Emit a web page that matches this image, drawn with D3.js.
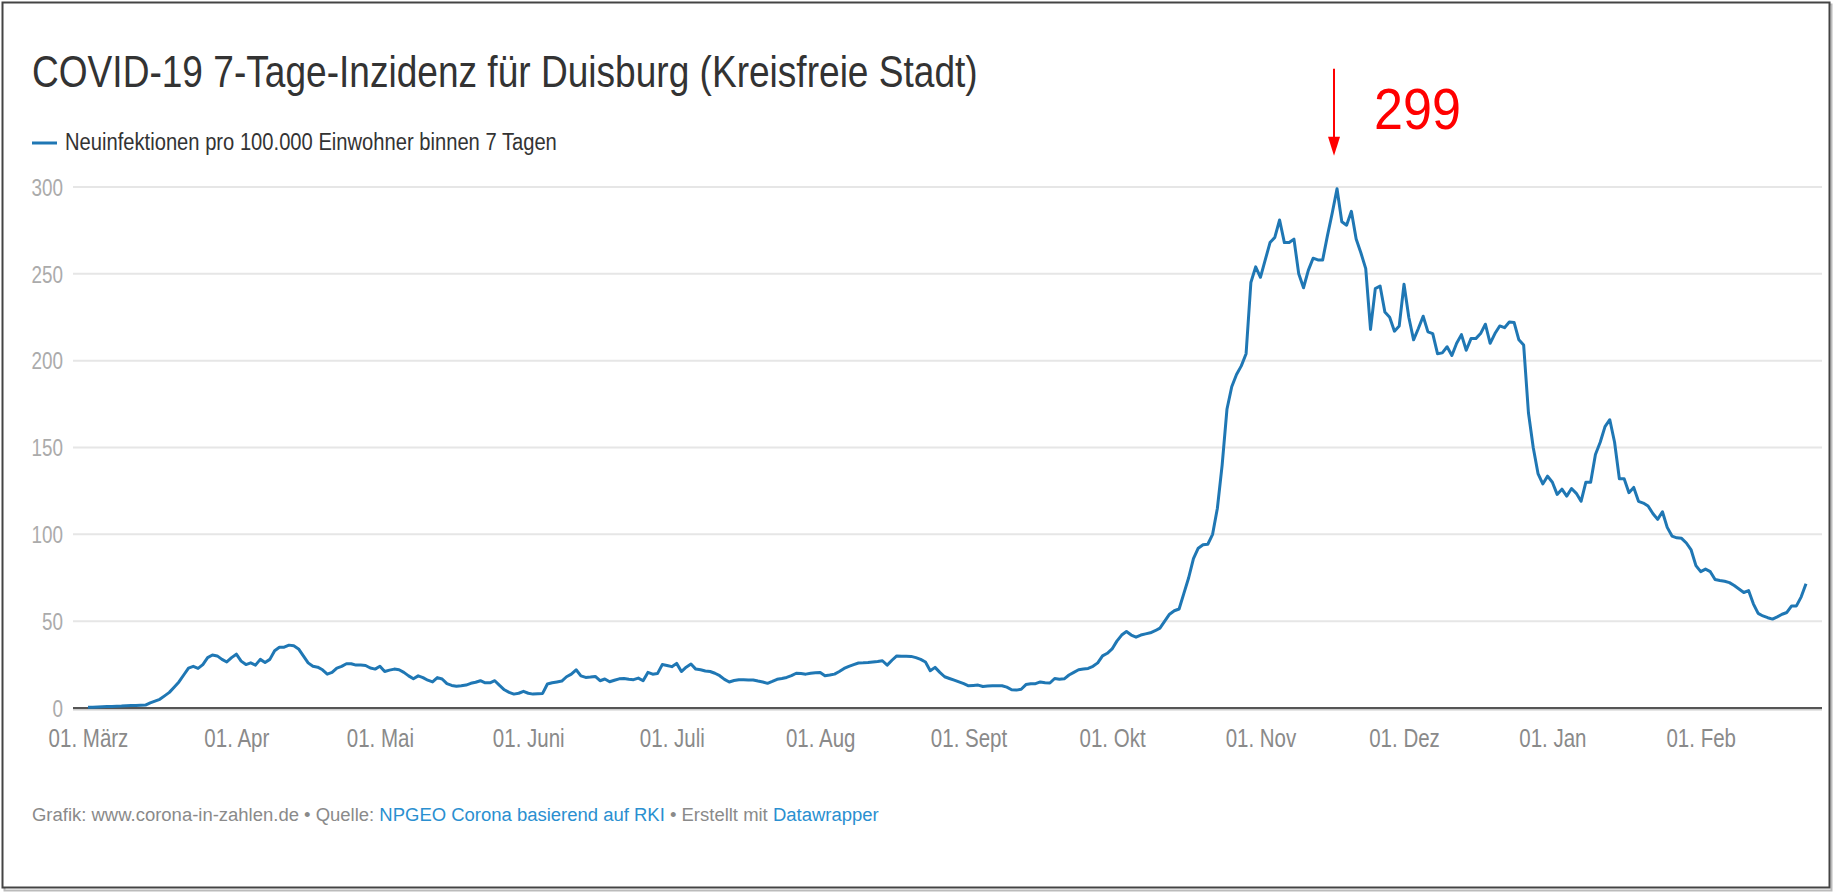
<!DOCTYPE html>
<html>
<head>
<meta charset="utf-8">
<script src="https://cdn.jsdelivr.net/npm/d3@7"></script>
<style>
html, body { margin: 0; padding: 0; background: #fff; }
svg { display: block; font-family: "Liberation Sans", Arial, sans-serif; }
</style>
</head>
<body>
<svg width="1835" height="893"></svg>
<script>
// 7-Tage-Inzidenz Duisburg, one value per day, starting 01. März 2020
var valuesMar = [0.4,0.5,0.6,0.7,0.8,0.9,1.0,1.1,1.3,1.4,1.5,1.6,1.7,3,4,5,7,9,12,15,19,23,24,22.8,25,29,30.5,30,28,26.5,29]
var valuesApr = [31,27,25,26,24.7,28,26.2,28,33,35,35,36.2,35.8,34,30,26,24,23.5,22,19.5,20.5,23,24,25.5,25.5,24.7,24.7,24.5,23,22.4]
var valuesMai = [24,21,21.8,22.4,22,20.5,18.5,16.8,18.5,17.5,16,15,17.5,16.7,14,13,12.5,12.8,13.2,14.2,14.8,15.7,14.5,14.5,15.7,13,10.5,9,8,8.5,9.6]
var valuesJun = [8.5,8,8.2,8.4,13.8,14.5,15,15.5,18,19.5,22,18.5,17.6,17.8,18.2,15.7,16.7,15.1,16,16.8,17,16.5,16.3,17.2,15.7,20.5,19.5,19.8,25,24.5]
var valuesJul = [23.8,25.7,21,23.5,25.3,22.4,22,21.3,21,20,18.6,16.5,15,15.8,16.3,16.2,16.1,16.1,15.5,15,14.2,15.3,16.5,17,17.6,18.6,20,19.8,19.5,20,20.3]
var valuesAug = [20.5,18.6,19,19.5,21,22.8,24,25,25.9,26,26.2,26.5,26.8,27.2,24.7,27.5,30,29.8,29.8,29.7,29,28,26.5,21.5,23.4,20.5,18,17,16,15,14]
var valuesSep = [12.8,13,13.2,12.4,12.6,12.8,12.8,12.8,12,10.5,10.3,10.8,13.5,14,14,15,14.6,14.4,17,16.6,16.8,19,20.5,22,22.4,22.8,24,26,30,31.5]
var valuesOkt = [34,38.5,42,44,42,40.8,42,42.7,43.3,44.5,46,50,54,56,57,66,75,86,92,94,94.3,100,115,140,172,185,192,197,204,245,254]
var valuesNov = [248,258,268,271,281,268,268,270,250,242,252,259,258,258,272,285,299,280,278,286,270,262,253,218,241.5,243,228,225,217,220]
var valuesDez = [244,225,212,218.5,225.6,216.6,215.6,204,204.5,208,203,210,215,206,212.7,212.7,215.6,221,210,215.6,220,219,222.3,222,212,209,170,150,135,129,133.5]
var valuesJan = [130,123,126,122,126.4,123.6,119,130,130,146,153,162,166,153,132,132,124,127,119,118,116.3,112,108.6,113,104,99,98,97.7,95,91,82]
var valuesFeb = [78.5,80,78.5,74,73.4,73,72.2,70.5,68.5,66.5,67.6,60,54.5,53,52,51.2,52.5,54,55,58.8,58.8,64,71.5]

var xTickLabels = ["01. März", "01. Apr", "01. Mai", "01. Juni", "01. Juli", "01. Aug",
                   "01. Sept", "01. Okt", "01. Nov", "01. Dez", "01. Jan", "01. Feb"]
var yTicks = [0, 50, 100, 150, 200, 250, 300]
var peakLabel = "299"

var allValues = [].concat(valuesMar, valuesApr, valuesMai, valuesJun, valuesJul, valuesAug,
                          valuesSep, valuesOkt, valuesNov, valuesDez, valuesJan, valuesFeb)
var startDate = new Date(2020, 2, 1)
var series = allValues.map(function (v, i) {
    return {date: d3.timeDay.offset(startDate, i), value: v}
})
var lastDate = series[series.length - 1].date
var tickDates = d3.timeMonth.range(startDate, lastDate)

const squeeze = 0.82   // the screenshot is horizontally condensed

var svg = d3.select("svg")

// frame with a little shadow
svg.append("rect").attr("x", 4.5).attr("y", 4.5).attr("width", 1827).attr("height", 886)
    .attr("fill", "none").attr("stroke", "#bbb").attr("stroke-width", 2)
svg.append("rect").attr("x", 2.5).attr("y", 2.5).attr("width", 1827).attr("height", 885)
    .attr("fill", "#fff").attr("stroke", "#444").attr("stroke-width", 2)

function fitText(t, x, y, target) {
    var w = t.node().getComputedTextLength()
    t.attr("transform", `translate(${x}, ${y}) scale(${target / w}, 1)`)
}

// title
var title = svg.append("text").text("COVID-19 7-Tage-Inzidenz für Duisburg (Kreisfreie Stadt)")
    .attr("font-size", 45).attr("fill", "#333")
fitText(title, 32, 87, 946)

// legend
svg.append("line").attr("x1", 32).attr("x2", 57).attr("y1", 143).attr("y2", 143)
    .attr("stroke", "#1f77b4").attr("stroke-width", 3)
var legend = svg.append("text").text("Neuinfektionen pro 100.000 Einwohner binnen 7 Tagen")
    .attr("font-size", 23).attr("fill", "#333")
fitText(legend, 65, 150, 492)

// scales
var xScale = d3.scaleTime().domain([startDate, lastDate]).range([88, 1806])
var yScale = d3.scaleLinear().domain([0, 300]).range([708, 187])

// grid
svg.append("g").selectAll("line")
    .data(yTicks.filter(function (d) { return d > 0 }))
    .enter().append("line")
    .attr("x1", 73).attr("x2", 1822)
    .attr("y1", function (d) { return yScale(d) })
    .attr("y2", function (d) { return yScale(d) })
    .attr("stroke", "#e6e6e6").attr("stroke-width", 2)

// y axis labels
var yAxis = d3.axisLeft(yScale).tickValues(yTicks).tickSize(0).tickPadding(0)
var gy = svg.append("g").attr("transform", "translate(63, 0)").call(yAxis)
gy.select(".domain").remove()
gy.selectAll("text")
    .attr("x", 0).attr("dy", "0.36em")
    .attr("transform", `scale(${squeeze}, 1)`)
    .attr("font-size", 23).attr("font-family", "Liberation Sans, Arial, sans-serif")
    .attr("fill", "#ababab")

// baseline
svg.append("line").attr("x1", 73).attr("x2", 1822)
    .attr("y1", yScale(0) + 1.5).attr("y2", yScale(0) + 1.5)
    .attr("stroke", "#ccc").attr("stroke-width", 2)
svg.append("line").attr("x1", 73).attr("x2", 1822)
    .attr("y1", yScale(0)).attr("y2", yScale(0))
    .attr("stroke", "#555").attr("stroke-width", 2)

// x axis labels
var xAxis = d3.axisBottom(xScale).tickValues(tickDates)
    .tickFormat(function (d, i) { return xTickLabels[i] }).tickSize(0)
var gx = svg.append("g").attr("transform", `translate(0, ${yScale(0)})`).call(xAxis)
gx.select(".domain").remove()
gx.selectAll("text")
    .attr("y", 0).attr("dy", null)
    .attr("transform", `translate(0, 39) scale(${squeeze}, 1)`)
    .attr("font-size", 25).attr("font-family", "Liberation Sans, Arial, sans-serif")
    .attr("fill", "#8a8a8a")

// the line
var line = d3.line()
    .x(function (d) { return xScale(d.date) })
    .y(function (d) { return yScale(d.value) })
svg.append("path").datum(series)
    .attr("d", line)
    .attr("fill", "none")
    .attr("stroke", "#1f77b4")
    .attr("stroke-width", 3)
    .attr("stroke-linejoin", "round")

// red annotation at the peak
var peak = series[d3.maxIndex(series, function (d) { return d.value })]
var px = xScale(peak.date) - 3
var py = yScale(peak.value)
svg.append("line").attr("x1", px).attr("x2", px).attr("y1", py - 120).attr("y2", py - 50)
    .attr("stroke", "#f00").attr("stroke-width", 2)
svg.append("path")
    .attr("d", `M${px - 6},${py - 52} L${px + 6},${py - 52} L${px},${py - 33} Z`)
    .attr("fill", "#f00")
var big = svg.append("text").text(peakLabel).attr("font-size", 57).attr("fill", "#f00")
fitText(big, px + 40, 129, 87)

// footer
var foot = svg.append("text").attr("font-size", 19).attr("fill", "#8a8a8a")
foot.append("tspan").text("Grafik: www.corona-in-zahlen.de • Quelle: ")
foot.append("tspan").attr("fill", "#2a8fd0").text("NPGEO Corona basierend auf RKI")
foot.append("tspan").text(" • Erstellt mit ")
foot.append("tspan").attr("fill", "#2a8fd0").text("Datawrapper")
fitText(foot, 32, 821, 847)
</script>
</body>
</html>
